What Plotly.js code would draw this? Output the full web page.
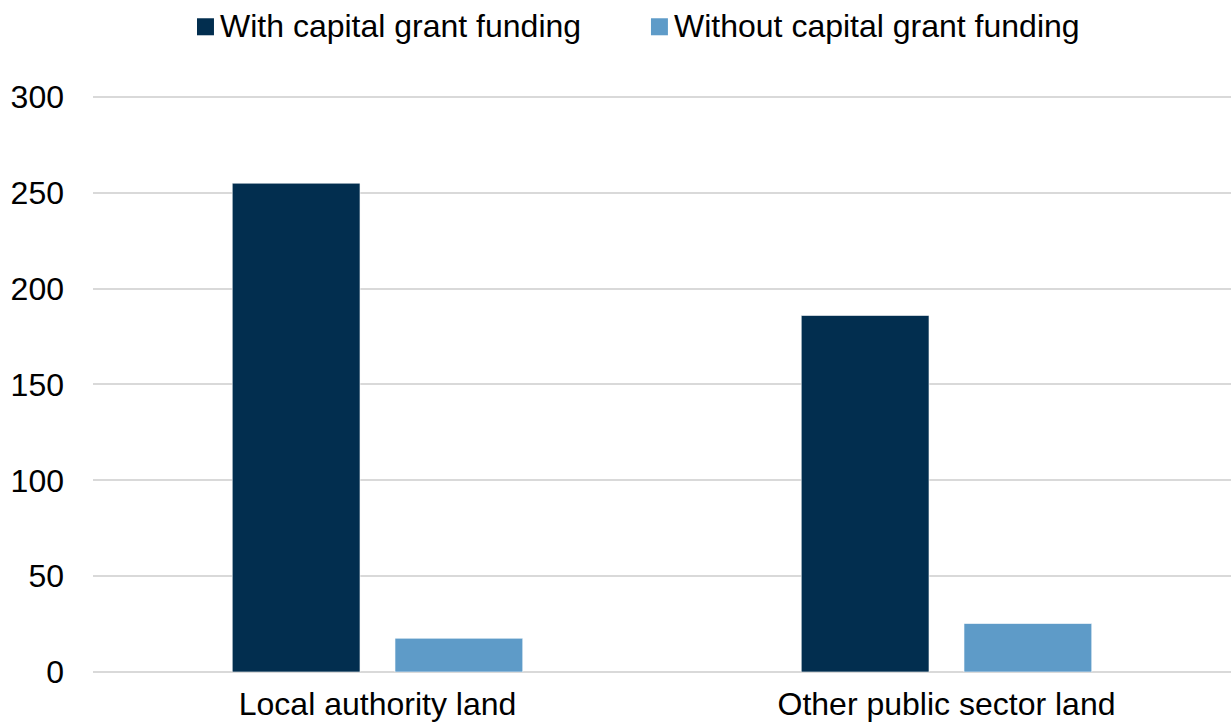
<!DOCTYPE html>
<html>
<head>
<meta charset="utf-8">
<script src="https://cdn.plot.ly/plotly-3.0.1.min.js"></script>
<style>
html,body{margin:0;padding:0;background:#fff;overflow:hidden;}
#chart{width:1231px;height:727px;}
</style>
</head>
<body>
<div id="chart"></div>
<script>
const categories = ["Local authority land", "Other public sector land"];
const seriesNames = ["With capital grant funding", "Without capital grant funding"];
const seriesColors = ["#022e4f", "#5e9bc8"];
const withGrant = [255, 186];
const withoutGrant = [17.6, 25.3];
const yTicks = [0, 50, 100, 150, 200, 250, 300];

const font = {family: "Liberation Sans, Arial, sans-serif", size: 32, color: "#000"};

const traces = [
  {type: "bar", name: seriesNames[0], x: categories, y: withGrant,
   marker: {color: seriesColors[0], line: {color: "rgba(255,255,255,0.6)", width: 1}}, hoverinfo: "none"},
  {type: "bar", name: seriesNames[1], x: categories, y: withoutGrant,
   marker: {color: seriesColors[1], line: {color: "rgba(255,255,255,0.6)", width: 1}}, hoverinfo: "none"}
];

// Custom legend (square swatches + labels) placed above the plot
const legendX = [0.0914, 0.4903];
const sw = 0.0149, shTop = 1.133, shBot = 1.1035;
const shapes = seriesNames.map((n, i) => ({
  type: "rect", xref: "paper", yref: "paper",
  x0: legendX[i], x1: legendX[i] + sw, y0: shBot, y1: shTop,
  fillcolor: seriesColors[i], line: {width: 0}
}));
const annotations = seriesNames.map((n, i) => ({
  text: n, xref: "paper", yref: "paper", x: legendX[i] + sw + 0.0035, y: 1.119,
  xanchor: "left", yanchor: "middle", showarrow: false, font: font
}));

const layout = {
  width: 1231, height: 727,
  margin: {l: 93, r: 0, t: 95, b: 55, pad: 0},
  paper_bgcolor: "#fff", plot_bgcolor: "#fff",
  font: font,
  barmode: "group", bargap: 0.428, bargroupgap: 0.215,
  showlegend: false,
  shapes: shapes,
  annotations: annotations,
  xaxis: {type: "category", showgrid: false, showline: false, zeroline: false,
          ticks: "", tickfont: font, ticklabelstandoff: 10},
  yaxis: {range: [0, 301], tickvals: yTicks, ticktext: yTicks.map(String),
          showgrid: true, gridcolor: "#d9d9d9", gridwidth: 2,
          zeroline: true, zerolinecolor: "#d9d9d9", zerolinewidth: 2,
          showline: false, ticks: "", tickfont: font, ticklabelstandoff: 28}
};

Plotly.newPlot("chart", traces, layout, {staticPlot: true, displayModeBar: false});
</script>
</body>
</html>
